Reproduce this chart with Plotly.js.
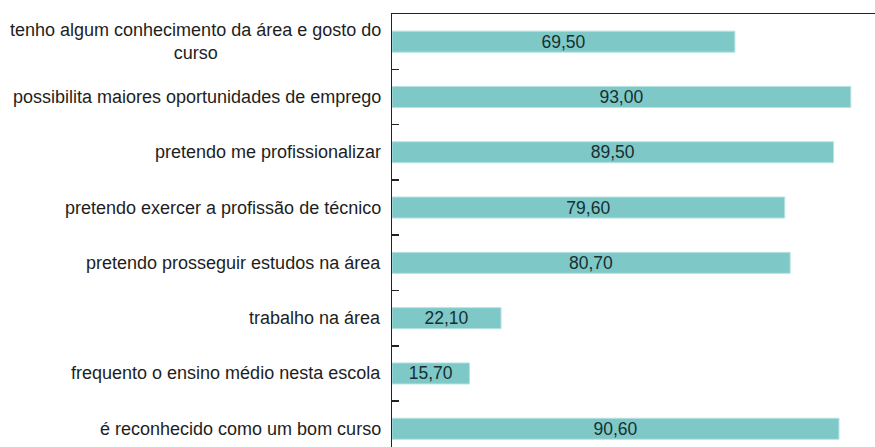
<!DOCTYPE html>
<html><head><meta charset="utf-8">
<script src="https://cdn.plot.ly/plotly-3.0.1.min.js"></script>
<style>html,body{margin:0;padding:0;background:#fff;}</style>
</head><body>
<div id="chart" style="width:875px;height:447px;"></div>
<script>
var categories = [
  "tenho algum conhecimento da área e gosto do<br>curso",
  "possibilita maiores oportunidades de emprego",
  "pretendo me profissionalizar",
  "pretendo exercer a profissão de técnico",
  "pretendo prosseguir estudos na área",
  "trabalho na área",
  "frequento o ensino médio nesta escola",
  "é reconhecido como um bom curso"
];
var values = [69.5, 93.0, 89.5, 79.6, 80.7, 22.1, 15.7, 90.6];
var valueLabels = values.map(function(v){ return v.toFixed(2).replace('.', ','); });

var trace = {
  type: 'bar', orientation: 'h',
  x: values, y: categories,
  width: 0.38,
  marker: {color: '#7ec8c8', line: {color: '#b8e2e2', width: 1}},
  text: valueLabels, textposition: 'inside', insidetextanchor: 'middle',
  constraintext: 'none',
  textfont: {family: 'Liberation Sans, Arial, sans-serif', size: 17.5, color: '#17302f'},
  hoverinfo: 'none', cliponaxis: false
};

var annotations = categories.map(function(c){
  return {xref: 'paper', yref: 'y', x: 0, y: c, text: c, showarrow: false,
    xanchor: 'right', yanchor: 'middle', align: 'center', xshift: -9,
    font: {family: 'Liberation Sans, Arial, sans-serif', size: 18, color: '#1e1e1e'}};
});

var layout = {
  width: 875, height: 447,
  margin: {l: 392, r: 0, t: 14, b: 0},
  paper_bgcolor: '#fff', plot_bgcolor: '#fff',
  showlegend: false,
  xaxis: {range: [0, 97.9], side: 'top', showline: true, linecolor: '#222', linewidth: 1.5,
    showgrid: false, zeroline: false, showticklabels: false, ticks: ''},
  yaxis: {type: 'category', range: [7.33, -0.5], showline: true, linecolor: '#222', linewidth: 1.5,
    showgrid: false, zeroline: false, showticklabels: false,
    ticks: 'inside', tickson: 'boundaries', ticklen: 7, tickcolor: '#222', tickwidth: 1.5},
  annotations: annotations
};

Plotly.newPlot('chart', [trace], layout, {displayModeBar: false, staticPlot: true});
</script>
</body></html>
